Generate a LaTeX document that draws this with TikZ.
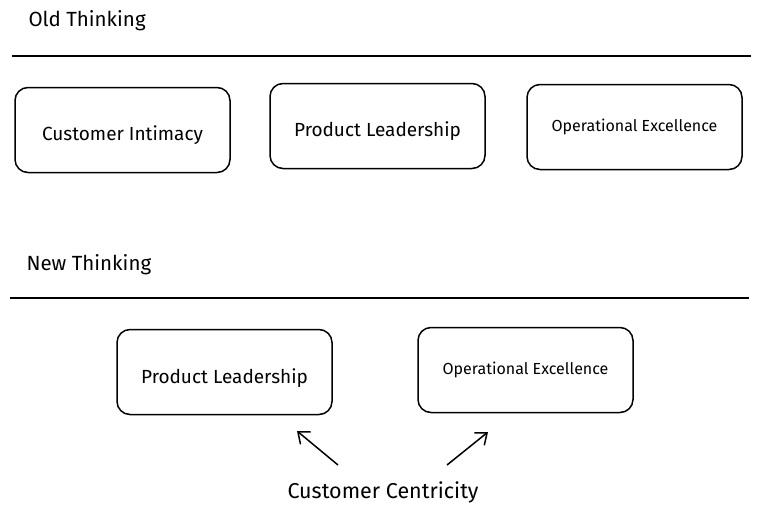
\documentclass[tikz,border=0pt]{standalone}
\usepackage{fontspec}
\setmainfont{Fira Sans}
\usepackage{tikz}
\usetikzlibrary{arrows.meta,positioning}

\begin{document}
\begin{tikzpicture}[
  x=1pt, y=-1pt,
  box/.style={draw, rounded corners=13pt, line width=1.5pt, align=center,
              minimum width=215pt, minimum height=85pt,
              text height=25pt, text depth=4pt, font=\fontsize{19}{22}\selectfont},
  smallbox/.style={box, text height=12pt, text depth=3pt, font=\fontsize{16}{19}\selectfont},
  heading/.style={anchor=west, font=\fontsize{20.5}{24}\selectfont},
  rule/.style={line width=2.2pt},
  arrow/.style={-{Straight Barb[length=10pt, width=16pt]}, line width=1.5pt}
]
\useasboundingbox (0,0) rectangle (760,515);

% old thinking
\node[heading] (old) at (25,21) {Old Thinking};
\coordinate (r1a) at (12,56);
\coordinate (r1b) at (751,56);
\draw[rule] (r1a) -- (r1b);
\node[box] (ci) at (122.5,130) {Customer Intimacy};
\node[box] (pl1) at (377.5,126) {Product Leadership};
\node[smallbox] (oe1) at (634.5,127) {Operational Excellence};

% new thinking
\node[heading] (new) at (23,265) {New Thinking};
\coordinate (r2a) at (10,298);
\coordinate (r2b) at (749,298);
\draw[rule] (r2a) -- (r2b);
\node[box, text height=27pt] (pl2) at (224.5,372) {Product Leadership};
\node[smallbox] (oe2) at (525.5,370) {Operational Excellence};

\node[font=\fontsize{21.5}{25}\selectfont] (cc) at (383,492) {Customer Centricity};
\coordinate (a1s) at (338,465);
\coordinate (a1e) at (297,431);
\coordinate (a2s) at (447,465);
\coordinate (a2e) at (488,432);
\draw[arrow] (a1s) -- (a1e);
\draw[arrow] (a2s) -- (a2e);
\end{tikzpicture}
\end{document}
